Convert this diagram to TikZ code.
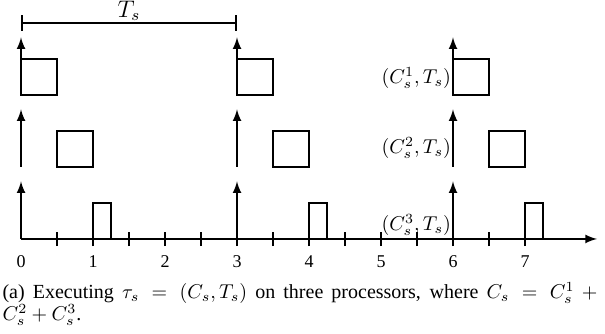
\documentclass[tikz,border=0pt]{standalone}
\usepackage{fontspec}
\setmainfont{Liberation Serif}
\usetikzlibrary{positioning,arrows}
\tikzset{>=latex}

\begin{document}
\begin{tikzpicture}[>=latex, x=36pt, y=36pt, line width=1pt]
    \useasboundingbox (-0.292,-1.319) rectangle (8.111,3.319);
    % period
    \draw[|-|] (0,3) -- (3,3);
    \node[anchor=base, font=\fontsize{12}{14}\selectfont, inner sep=1pt] (period) at (1.5,3.08) {$T_s$};
    % time axis
    \draw[->] (0,0) -- (8,0);
    \foreach \x in {0.5,1,...,7}
        \draw (\x,-0.1) -- (\x,0.1);
    \foreach \x in {0,...,7}
        \node[font=\fontsize{9}{11}\selectfont] (t\x) at (\x,-0.32) {\x};
    % releases and jobs of the three processors
    \foreach \r in {0,3,6}
    {
        \draw[->] (\r,2) -- (\r,2.8);
        \draw (\r,2) rectangle (\r+0.5,2.5);
        \draw[->] (\r,1) -- (\r,1.8);
        \draw (\r+0.5,1) rectangle (\r+1,1.5);
        \draw[->] (\r,0) -- (\r,0.8);
        \draw (\r+1,0) rectangle (\r+1.25,0.5);
    }
    \node[anchor=east, inner sep=0.5pt, font=\fontsize{10}{12}\selectfont] (proc1) at (6,2.24) {$(C_s^1,T_s)$};
    \node[anchor=east, inner sep=0.5pt, font=\fontsize{10}{12}\selectfont] (proc2) at (6,1.26) {$(C_s^2,T_s)$};
    \node[anchor=east, inner sep=0.5pt, font=\fontsize{10}{12}\selectfont] (proc3) at (6,0.19) {$(C_s^3,T_s)$};
    % caption
    \node[anchor=base west, text width=301pt, align=justify, inner sep=0pt, font=\fontsize{10}{11}\selectfont] (caption) at (-0.27,-0.833)
        {(a) Executing $\tau_s = (C_s,T_s)$ on three processors, where $C_s = C_s^1 +{}$\linebreak $C_s^2 + C_s^3$.};
\end{tikzpicture}
\end{document}
